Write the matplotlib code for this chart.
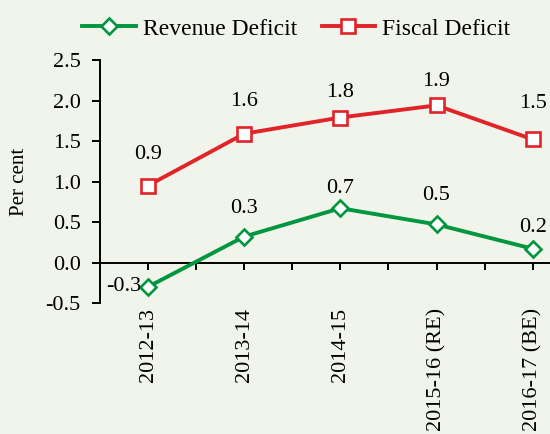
import matplotlib.pyplot as plt
import numpy as np

plt.rcParams['font.family'] = ['Liberation Serif', 'DejaVu Serif']

years = ['2012-13', '2013-14', '2014-15', '2015-16 (RE)', '2016-17 (BE)']
revenue = [-0.30, 0.32, 0.67, 0.47, 0.17]
fiscal = [0.95, 1.59, 1.79, 1.94, 1.52]
revenue_labels = ['-0.3', '0.3', '0.7', '0.5', '0.2']
fiscal_labels = ['0.9', '1.6', '1.8', '1.9', '1.5']

bg = '#f1f4ea'
green = '#00963f'
red = '#e0242a'

fig = plt.figure(figsize=(5.5, 4.34), dpi=100, facecolor=bg)
ax = fig.add_axes([100 / 550, 1 - 303 / 434, 1 - 100 / 550, (303 - 60) / 434])
ax.set_facecolor(bg)

ax.spines['top'].set_visible(False)
ax.spines['right'].set_visible(False)
ax.spines['bottom'].set_position(('data', 0))
ax.spines['left'].set_linewidth(1.4)
ax.spines['bottom'].set_linewidth(1.4)

x = np.arange(len(years))
ax.plot(x, revenue, color=green, lw=2.8, marker='D', ms=8.5, mfc='white',
        mec=green, mew=1.9, label='Revenue Deficit', zorder=3)
ax.plot(x, fiscal, color=red, lw=2.8, marker='s', ms=10, mfc='white',
        mec=red, mew=1.9, label='Fiscal Deficit', zorder=3)

# label offsets in points (dx, dy)
rev_off = [(-5, 0), (0, 20), (0, 14), (0, 21), (0, 15)]
fis_off = [(0, 22), (0, 23), (0, 18), (0, 17), (0, 26)]
for i in range(len(years)):
    ha = 'right' if i == 0 else 'center'
    ax.annotate(revenue_labels[i], (x[i], revenue[i]), xytext=rev_off[i],
                textcoords='offset points', ha=ha, va='center', fontsize=16)
    ax.annotate(fiscal_labels[i], (x[i], fiscal[i]), xytext=fis_off[i],
                textcoords='offset points', ha='center', va='center', fontsize=16)

ax.set_xlim(-0.5, 4.18)
ax.set_ylim(-0.5, 2.5)
yt = np.arange(-0.5, 2.51, 0.5)
ax.set_yticks(yt)
ax.set_yticklabels([f'{v:.1f}' for v in yt])
ax.set_xticks(x)
ax.set_xticklabels(years)
ax.set_xticks(x[:-1] + 0.5, minor=True)

ax.tick_params(axis='y', direction='out', length=6, width=1.4, labelsize=16, pad=8)
ax.tick_params(axis='x', which='both', direction='out', length=5, width=1.4)
ax.tick_params(axis='x', which='major', labelsize=16, pad=28, labelrotation=90)
for lab in ax.get_xticklabels():
    lab.set_va('top')

ax.set_ylabel('Per cent', fontsize=15, labelpad=12)

ax.legend(loc='upper center', bbox_to_anchor=(0.436, 1.26), ncol=2,
          frameon=False, fontsize=17, handlelength=2.25, columnspacing=1.05,
          handletextpad=0.3)

fig.savefig('out.png', dpi=100, facecolor=bg)
